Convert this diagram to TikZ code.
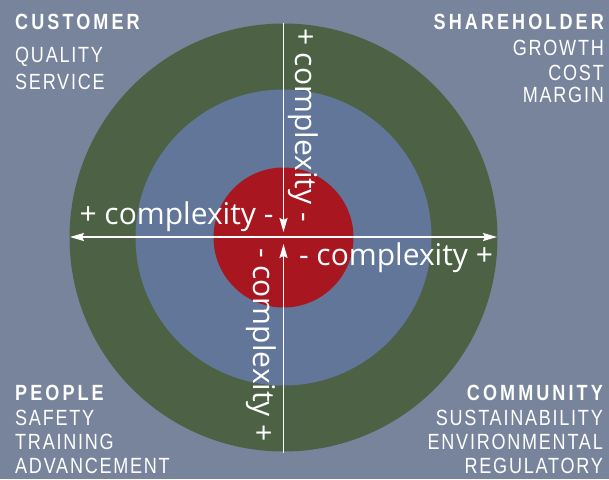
\documentclass[tikz,border=0pt]{standalone}
\usepackage{fontspec}
\usetikzlibrary{arrows.meta,calc}
\setmainfont{Open Sans}
\newfontfamily\labelfont[FakeStretch=0.82,LetterSpace=8]{Liberation Sans}
\newfontfamily\headfont[FakeStretch=0.82,LetterSpace=14]{Liberation Sans Bold}
\definecolor{bgslate}{HTML}{78849C}
\definecolor{ringgreen}{HTML}{4D6245}
\definecolor{ringblue}{HTML}{627699}
\definecolor{corered}{HTML}{A8161F}
\tikzset{
  ring/.style={circle,inner sep=0pt,outer sep=0pt,draw=none},
  axis/.style={white,line width=1.6pt,-{Stealth[length=14pt,width=8pt,inset=2pt]}},
  axisboth/.style={axis,{Stealth[length=14pt,width=8pt,inset=2pt]}-{Stealth[length=14pt,width=8pt,inset=2pt]}},
  cplx/.style={text=white,inner sep=0pt,anchor=base,font=\fontsize{30}{30}\selectfont},
  head/.style={text=white,inner sep=0pt,font=\headfont\fontsize{22}{22}\selectfont},
  item/.style={text=white,inner sep=0pt,font=\labelfont\fontsize{22}{22}\selectfont}
}
\begin{document}
\begin{tikzpicture}[x=1pt,y=-1pt]
  \fill[bgslate] (0,0) rectangle (609,479);
  \useasboundingbox (0,0) rectangle (609,479);

  % concentric target
  \node[ring,fill=ringgreen,minimum size=428pt] (outer) at (283.5,237.5) {};
  \node[ring,fill=ringblue,minimum size=296pt] (middle) at (283.5,237.5) {};
  \node[ring,fill=corered,minimum size=140pt] (core) at (283.5,237.5) {};

  % axes
  \coordinate (hl) at (70,237);
  \coordinate (hr) at (497,237);
  \coordinate (vt) at (283.5,23);
  \coordinate (vb) at (283.5,453);
  \coordinate (tipdown) at (283.5,232);
  \coordinate (tipup) at (283.5,244);
  \draw[axisboth] (hl) -- (hr);
  \draw[axis] (vt) -- (tipdown);
  \draw[axis] (vb) -- (tipup);

  % axis labels
  \node[cplx] (cleft) at (176.5,224) {+ complexity -};
  \node[cplx] (cright) at (396,265) {- complexity +};
  \node[cplx,rotate=-90] (ctop) at (295,125) {+ complexity -};
  \node[cplx,rotate=-90] (cbottom) at (253,345) {- complexity +};

  % corner labels, top left
  \node[head,anchor=base west] (customer) at (15,29) {CUSTOMER};
  \node[item,anchor=base west] (quality) at (15,62) {QUALITY};
  \node[item,anchor=base west] (service) at (15,89) {SERVICE};

  % top right
  \node[head,anchor=base east] (shareholder) at (604,29) {SHAREHOLDER};
  \node[item,anchor=base east] (growth) at (604,55) {GROWTH};
  \node[item,anchor=base east] (cost) at (604,80) {COST};
  \node[item,anchor=base east] (margin) at (604,102) {MARGIN};

  % bottom left
  \node[head,anchor=base west] (people) at (15,400) {PEOPLE};
  \node[item,anchor=base west] (safety) at (15,425) {SAFETY};
  \node[item,anchor=base west] (training) at (15,449) {TRAINING};
  \node[item,anchor=base west] (advancement) at (15,473) {ADVANCEMENT};

  % bottom right
  \node[head,anchor=base east] (community) at (603,400) {COMMUNITY};
  \node[item,anchor=base east] (sustain) at (603,425) {SUSTAINABILITY};
  \node[item,anchor=base east] (environ) at (603,449) {ENVIRONMENTAL};
  \node[item,anchor=base east] (regul) at (603,473) {REGULATORY};
\end{tikzpicture}
\end{document}
